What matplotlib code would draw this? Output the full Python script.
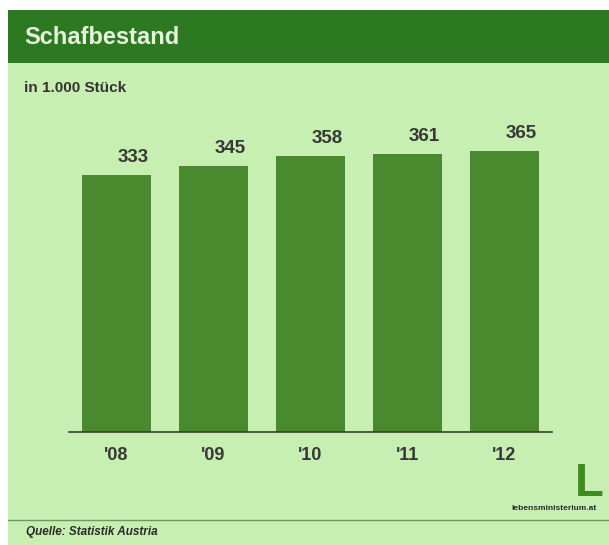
import matplotlib.pyplot as plt
from matplotlib.patches import Rectangle

# data
years = ["'08", "'09", "'10", "'11", "'12"]
sheep = [333, 345, 358, 361, 365]  # in 1.000 Stück

W, H = 609, 545
plt.rcParams['font.family'] = ['Liberation Sans', 'DejaVu Sans']

fig = plt.figure(figsize=(W / 100, H / 100), dpi=100)
fig.patch.set_facecolor('white')


def fx(px):
    return px / W


def fy(py):
    return 1 - py / H


# light green panel and dark green header
fig.add_artist(Rectangle((fx(8), 0), 1 - fx(8), fy(10), transform=fig.transFigure,
                         facecolor='#c7efb1', edgecolor='none', zorder=0))
fig.add_artist(Rectangle((fx(8), fy(63)), 1 - fx(8), fy(10) - fy(63), transform=fig.transFigure,
                         facecolor='#2d7921', edgecolor='none', zorder=1))
fig.text(fx(24), fy(37), 'Schafbestand', color='#e6f4dc', fontsize=17,
         fontweight='bold', va='center', ha='left')
fig.text(fx(24), fy(88), 'in 1.000 Stück', color='#333333', fontsize=11,
         fontweight='bold', va='center', ha='left')

# bars
ax = fig.add_axes([fx(69), fy(432), fx(552) - fx(69), fy(120) - fy(432)])
ax.set_facecolor('none')
x = range(len(years))
bars = ax.bar(x, sheep, width=0.71, color='#4a8a2e', zorder=2)
ax.set_xlim(-0.49, 4.49)
ax.set_ylim(0, 405)

for b, v in zip(bars, sheep):
    ax.annotate(str(v), (b.get_x() + b.get_width() / 2, v), xytext=(17, 9),
                textcoords='offset pixels', ha='center', va='bottom',
                fontsize=13.5, fontweight='bold', color='#383838')

ax.set_xticks(list(x))
ax.set_xticklabels(years, fontsize=13, fontweight='bold', color='#383838')
ax.tick_params(axis='x', length=0, pad=11)
ax.set_yticks([])
for s in ['top', 'right', 'left']:
    ax.spines[s].set_visible(False)
ax.spines['bottom'].set_color('#3a3a3a')
ax.spines['bottom'].set_linewidth(1.2)
ax.spines['bottom'].set_zorder(3)

# logo
fig.text(fx(575), fy(496), 'L', color='#3f8a1e', fontsize=34, fontweight='bold',
         ha='left', va='baseline')
fig.text(fx(554), fy(508), 'lebensministerium.at', color='#2b2b2b', fontsize=6,
         fontweight='bold', ha='center', va='center')

# source line
fig.add_artist(plt.Line2D([fx(8), 1], [fy(520), fy(520)], transform=fig.transFigure,
                          color='#6f9a60', linewidth=1))
fig.text(fx(26), fy(532), 'Quelle: Statistik Austria', color='#2b2b2b', fontsize=8.5,
         fontweight='bold', fontstyle='italic', ha='left', va='center')

fig.savefig('out.png', dpi=100)
